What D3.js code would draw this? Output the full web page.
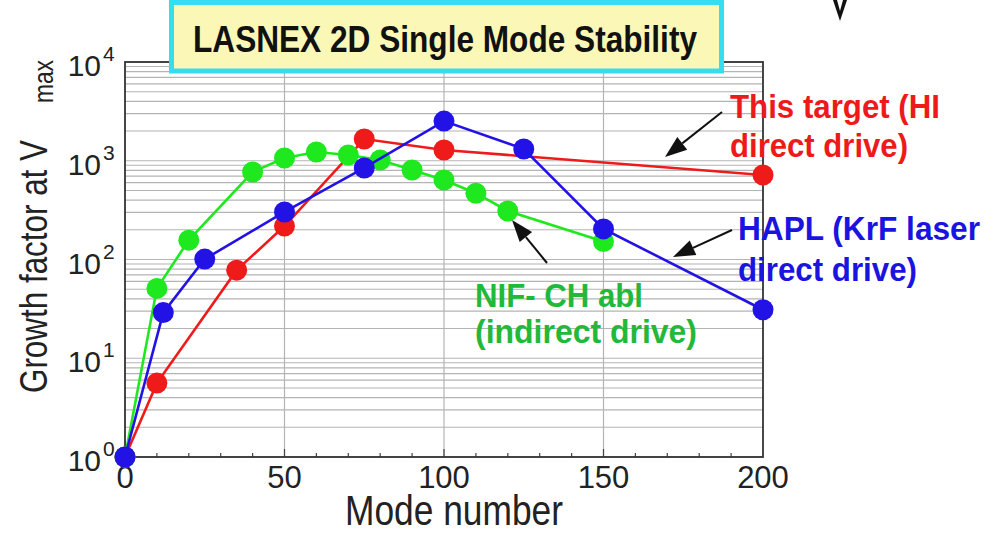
<!DOCTYPE html>
<html>
<head>
<meta charset="utf-8">
<title>LASNEX 2D Single Mode Stability</title>
<script src="https://cdn.jsdelivr.net/npm/d3@7/dist/d3.min.js"></script>
<style>
    body { margin: 0; background: #fff; }
    svg { display: block; }
    text { font-family: Arial, "Liberation Sans", Helvetica, sans-serif; }
</style>
</head>
<body>
<script>
    // values
    var modesRed = [0, 10, 35, 50, 75, 100, 200];
    var growthRed = [1, 5.6, 78, 218, 1660, 1285, 718];

    var modesGreen = [0, 10, 20, 40, 50, 60, 70, 80, 90, 100, 110, 120, 150];
    var growthGreen = [1, 51, 157, 769, 1066, 1226, 1143, 1018, 806, 638, 469, 310, 152];

    var modesBlue = [0, 12, 25, 50, 75, 100, 125, 150, 200];
    var growthBlue = [1, 29, 101, 303, 845, 2520, 1315, 204, 31];

    var xTicks = [0, 50, 100, 150, 200];
    var xMinor = d3.range(10, 200, 10);
    var yExps = [0, 1, 2, 3, 4];

    var W = 993, H = 539;
    var plotL = 125, plotR = 763, plotT = 62, plotB = 457;

    var svg = d3.select("body").append("svg")
        .attr("width", W)
        .attr("height", H);

    var x = d3.scaleLinear().domain([0, 200]).range([plotL, plotR]);
    var y = d3.scaleLog().domain([1, 1e4]).range([plotB, plotT]);

    // grid
    var minorY = [];
    yExps.slice(0, -1).forEach(function (e) {
        for (var k = 2; k <= 9; k++) minorY.push(k * Math.pow(10, e));
    });
    var grid = svg.append("g").attr("stroke", "#b4b4b4").attr("stroke-width", 1.2);
    grid.selectAll("line.hy").data(minorY.concat(yExps.map(function (e) { return Math.pow(10, e); })))
        .enter().append("line")
        .attr("x1", plotL).attr("x2", plotR)
        .attr("y1", function (d) { return y(d); })
        .attr("y2", function (d) { return y(d); });
    grid.selectAll("line.vx").data(xTicks.slice(1, -1))
        .enter().append("line")
        .attr("y1", plotT).attr("y2", plotB)
        .attr("x1", function (d) { return x(d); })
        .attr("x2", function (d) { return x(d); });

    // minor ticks along bottom
    svg.append("g").attr("stroke", "#444").attr("stroke-width", 1.2)
        .selectAll("line").data(xMinor).enter().append("line")
        .attr("x1", function (d) { return x(d); })
        .attr("x2", function (d) { return x(d); })
        .attr("y1", plotB).attr("y2", function (d) { return d % 50 === 0 ? plotB - 8 : plotB - 4; });

    // frame
    svg.append("rect")
        .attr("x", plotL).attr("y", plotT)
        .attr("width", plotR - plotL).attr("height", plotB - plotT)
        .attr("fill", "none").attr("stroke", "#333").attr("stroke-width", 1.8);

    // y tick labels 10^n
    var yl = svg.append("g").attr("fill", "#222");
    yl.selectAll("text.base").data(yExps).enter().append("text")
        .attr("x", 101)
        .attr("y", function (e) { return y(Math.pow(10, e)) + 14; })
        .attr("text-anchor", "end")
        .attr("font-size", 30)
        .text("10");
    yl.selectAll("text.sup").data(yExps).enter().append("text")
        .attr("x", 103)
        .attr("y", function (e) { return y(Math.pow(10, e)) - 1; })
        .attr("font-size", 21)
        .text(function (e) { return e; });

    // x tick labels
    svg.append("g").selectAll("text").data(xTicks).enter().append("text")
        .attr("x", function (d) { return x(d); })
        .attr("y", 488)
        .attr("text-anchor", "middle")
        .attr("font-size", 31)
        .attr("fill", "#222")
        .text(function (d) { return d; });

    // axis titles
    svg.append("text")
        .attr("x", 345).attr("y", 525)
        .attr("font-size", 42)
        .attr("textLength", 218)
        .attr("lengthAdjust", "spacingAndGlyphs")
        .attr("fill", "#222")
        .text("Mode number");

    var ylab = svg.append("g").attr("transform", "translate(47,393) rotate(-90)").attr("fill", "#222");
    ylab.append("text")
        .attr("x", 0).attr("y", 0)
        .attr("font-size", 38)
        .attr("textLength", 253)
        .attr("lengthAdjust", "spacingAndGlyphs")
        .text("Growth factor at V");
    ylab.append("text")
        .attr("x", 290).attr("y", 6)
        .attr("font-size", 28)
        .attr("textLength", 43)
        .attr("lengthAdjust", "spacingAndGlyphs")
        .text("max");

    // series
    var series = [
        { name: "red", modes: modesRed, vals: growthRed, color: "#ef1b1b" },
        { name: "green", modes: modesGreen, vals: growthGreen, color: "#1ee81e" },
        { name: "blue", modes: modesBlue, vals: growthBlue, color: "#2212e6" }
    ];
    var line = d3.line()
        .x(function (d) { return x(d[0]); })
        .y(function (d) { return y(d[1]); });

    series.forEach(function (s) {
        var pts = s.modes.map(function (m, i) { return [m, s.vals[i]]; });
        var g = svg.append("g").attr("class", "series-" + s.name);
        g.append("path")
            .datum(pts)
            .attr("d", line)
            .attr("fill", "none")
            .attr("stroke", s.color)
            .attr("stroke-width", 2.6);
        g.selectAll("circle").data(pts).enter().append("circle")
            .attr("cx", function (d) { return x(d[0]); })
            .attr("cy", function (d) { return y(d[1]); })
            .attr("r", 10.5)
            .attr("fill", s.color);
    });

    // title box
    svg.append("rect")
        .attr("x", 171.5).attr("y", 2.5)
        .attr("width", 550).attr("height", 68.5)
        .attr("fill", "#fbf7b6")
        .attr("stroke", "#36dcf0")
        .attr("stroke-width", 5);
    svg.append("text")
        .attr("x", 193).attr("y", 52)
        .attr("font-size", 37)
        .attr("font-weight", "bold")
        .attr("textLength", 504)
        .attr("lengthAdjust", "spacingAndGlyphs")
        .attr("fill", "#111")
        .text("LASNEX 2D Single Mode Stability");

    // stray glyph at the top right
    svg.append("path")
        .attr("d", "M833,0 L840,21 L847,0 L843,0 L840,11 L837,0 Z")
        .attr("fill", "#111");

    // annotations
    var notes = [
        { lines: ["This target (HI", "direct drive)"], x: 730, y: 118, dy: 39, len: [210, 178], color: "#ee1a1a" },
        { lines: ["HAPL (KrF laser", "direct drive)"], x: 738, y: 240, dy: 41, len: [242, 179], color: "#1a14e0" },
        { lines: ["NIF- CH abl", "(indirect drive)"], x: 475, y: 307, dy: 36, len: [168, 222], color: "#22b93a" }
    ];
    notes.forEach(function (n) {
        n.lines.forEach(function (t, i) {
            svg.append("text")
                .attr("x", n.x).attr("y", n.y + i * n.dy)
                .attr("font-size", 34)
                .attr("font-weight", "bold")
                .attr("textLength", n.len[i])
                .attr("lengthAdjust", "spacingAndGlyphs")
                .attr("fill", n.color)
                .text(t);
        });
    });

    var arrows = [
        [722, 112, 665, 157],
        [732, 230, 673, 257],
        [547, 263, 512, 220]
    ];
    arrows.forEach(function (a) {
        var dx = a[2] - a[0], dy = a[3] - a[1];
        var L = Math.sqrt(dx * dx + dy * dy), ux = dx / L, uy = dy / L;
        var hl = 22, hw = 8;
        var bx = a[2] - ux * hl, by = a[3] - uy * hl;
        svg.append("line")
            .attr("x1", a[0]).attr("y1", a[1])
            .attr("x2", bx).attr("y2", by)
            .attr("stroke", "#111").attr("stroke-width", 2);
        svg.append("path")
            .attr("d", "M" + a[2] + "," + a[3] +
                "L" + (bx - uy * hw) + "," + (by + ux * hw) +
                "L" + (bx + uy * hw) + "," + (by - ux * hw) + "Z")
            .attr("fill", "#111");
    });
</script>
</body>
</html>
